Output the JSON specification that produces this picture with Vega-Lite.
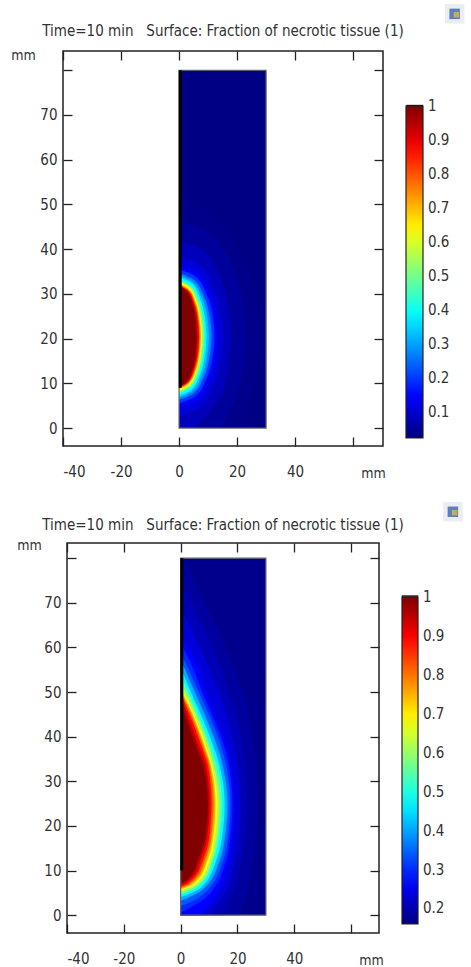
{"$schema":"https://vega.github.io/schema/vega-lite/v6.json","padding":{"left":9,"top":3,"right":0,"bottom":0},"background":"white","bounds":"flush","center":true,"spacing":97,"resolve":{"scale":{"color":"independent"},"legend":{"color":"independent"}},"config":{"view":{"stroke":"#222","strokeWidth":1.5},"font":"DejaVu Sans Condensed","axis":{"labelFont":"DejaVu Sans Condensed","labelFontSize":15,"labelColor":"#333","titleFont":"DejaVu Sans Condensed","titleFontSize":14,"titleFontWeight":"normal","titleColor":"#333","tickColor":"#222","grid":false,"domain":false,"tickWidth":1.3},"title":{"font":"DejaVu Sans Condensed","fontSize":15,"fontWeight":"normal","color":"#333"},"legend":{"labelFont":"DejaVu Sans Condensed","labelFontSize":15,"labelColor":"#333"}},
"datasets":{
"c1":[{"v":0.028,"y":0,"x":30},{"v":0.028,"y":80,"x":30},
{"v":0.035,"y":0,"x":22},{"v":0.035,"y":20.5,"x":28},{"v":0.035,"y":35,"x":24},{"v":0.035,"y":46,"x":14},{"v":0.035,"y":52.5,"x":0},
{"v":0.05,"y":0,"x":14},{"v":0.05,"y":3.6,"x":17.5},{"v":0.05,"y":12.7,"x":21.9},{"v":0.05,"y":20.5,"x":23},{"v":0.05,"y":28.3,"x":21.9},{"v":0.05,"y":37.4,"x":17.5},{"v":0.05,"y":43.9,"x":10},{"v":0.05,"y":46.5,"x":0},
{"v":0.08,"y":0,"x":5.4},{"v":0.08,"y":6.5,"x":13.7},{"v":0.08,"y":14,"x":17.1},{"v":0.08,"y":20.5,"x":18},{"v":0.08,"y":27,"x":17.1},{"v":0.08,"y":34.5,"x":13.7},{"v":0.08,"y":39.85,"x":7.9},{"v":0.08,"y":42,"x":0},
{"v":0.11,"y":2.5,"x":0},{"v":0.11,"y":4.3,"x":6.6},{"v":0.11,"y":8.8,"x":11.4},{"v":0.11,"y":15.1,"x":14.3},{"v":0.11,"y":20.5,"x":15},{"v":0.11,"y":25.9,"x":14.3},{"v":0.11,"y":32.2,"x":11.4},{"v":0.11,"y":36.7,"x":6.6},{"v":0.11,"y":38.5,"x":0},
{"v":0.146,"y":4.5,"x":0},{"v":0.146,"y":6.1,"x":5.8},{"v":0.146,"y":10.1,"x":10},{"v":0.146,"y":15.7,"x":12.5},{"v":0.146,"y":20.5,"x":13.2},{"v":0.146,"y":25.3,"x":12.5},{"v":0.146,"y":30.9,"x":10},{"v":0.146,"y":34.9,"x":5.8},{"v":0.146,"y":36.5,"x":0},
{"v":0.2,"y":5.5,"x":0},{"v":0.2,"y":7,"x":5.4},{"v":0.2,"y":10.75,"x":9.3},{"v":0.2,"y":16,"x":11.6},{"v":0.2,"y":20.5,"x":12.2},{"v":0.2,"y":25,"x":11.6},{"v":0.2,"y":30.25,"x":9.3},{"v":0.2,"y":34,"x":5.4},{"v":0.2,"y":35.5,"x":0},
{"v":0.27,"y":6.3,"x":0},{"v":0.27,"y":7.7,"x":4.9},{"v":0.27,"y":11.3,"x":8.5},{"v":0.27,"y":16.2,"x":10.6},{"v":0.27,"y":20.5,"x":11.2},{"v":0.27,"y":24.8,"x":10.6},{"v":0.27,"y":29.7,"x":8.5},{"v":0.27,"y":33.3,"x":4.9},{"v":0.27,"y":34.7,"x":0},
{"v":0.33,"y":6.8,"x":0},{"v":0.33,"y":8.2,"x":4.5},{"v":0.33,"y":11.6,"x":7.8},{"v":0.33,"y":16.4,"x":9.8},{"v":0.33,"y":20.5,"x":10.3},{"v":0.33,"y":24.6,"x":9.8},{"v":0.33,"y":29.4,"x":7.8},{"v":0.33,"y":32.8,"x":4.5},{"v":0.33,"y":34.2,"x":0},
{"v":0.39,"y":7.2,"x":0},{"v":0.39,"y":8.5,"x":4.2},{"v":0.39,"y":11.9,"x":7.2},{"v":0.39,"y":16.5,"x":9},{"v":0.39,"y":20.5,"x":9.5},{"v":0.39,"y":24.5,"x":9},{"v":0.39,"y":29.1,"x":7.2},{"v":0.39,"y":32.5,"x":4.2},{"v":0.39,"y":33.8,"x":0},
{"v":0.46,"y":7.7,"x":0},{"v":0.46,"y":9,"x":3.9},{"v":0.46,"y":12.2,"x":6.8},{"v":0.46,"y":16.7,"x":8.5},{"v":0.46,"y":20.5,"x":8.9},{"v":0.46,"y":24.3,"x":8.5},{"v":0.46,"y":28.8,"x":6.8},{"v":0.46,"y":32,"x":3.9},{"v":0.46,"y":33.3,"x":0},
{"v":0.54,"y":8,"x":0},{"v":0.54,"y":9.3,"x":3.7},{"v":0.54,"y":12.4,"x":6.4},{"v":0.54,"y":16.8,"x":8},{"v":0.54,"y":20.5,"x":8.4},{"v":0.54,"y":24.2,"x":8},{"v":0.54,"y":28.6,"x":6.4},{"v":0.54,"y":31.7,"x":3.7},{"v":0.54,"y":33,"x":0},
{"v":0.63,"y":8.3,"x":0},{"v":0.63,"y":9.5,"x":3.5},{"v":0.63,"y":12.6,"x":6},{"v":0.63,"y":16.8,"x":7.5},{"v":0.63,"y":20.5,"x":7.9},{"v":0.63,"y":24.2,"x":7.5},{"v":0.63,"y":28.4,"x":6},{"v":0.63,"y":31.5,"x":3.5},{"v":0.63,"y":32.7,"x":0},
{"v":0.72,"y":8.7,"x":0},{"v":0.72,"y":9.9,"x":3.3},{"v":0.72,"y":12.8,"x":5.7},{"v":0.72,"y":17,"x":7.1},{"v":0.72,"y":20.5,"x":7.5},{"v":0.72,"y":24,"x":7.1},{"v":0.72,"y":28.2,"x":5.7},{"v":0.72,"y":31.1,"x":3.3},{"v":0.72,"y":32.3,"x":0},
{"v":0.8,"y":8.9,"x":0},{"v":0.8,"y":10.1,"x":3.2},{"v":0.8,"y":13,"x":5.5},{"v":0.8,"y":17,"x":6.8},{"v":0.8,"y":20.5,"x":7.2},{"v":0.8,"y":24,"x":6.8},{"v":0.8,"y":28,"x":5.5},{"v":0.8,"y":30.9,"x":3.2},{"v":0.8,"y":32.1,"x":0},
{"v":0.88,"y":9.1,"x":0},{"v":0.88,"y":10.2,"x":3},{"v":0.88,"y":13.1,"x":5.2},{"v":0.88,"y":17.1,"x":6.6},{"v":0.88,"y":20.5,"x":6.9},{"v":0.88,"y":23.9,"x":6.6},{"v":0.88,"y":27.9,"x":5.2},{"v":0.88,"y":30.8,"x":3},{"v":0.88,"y":31.9,"x":0},
{"v":0.95,"y":9.2,"x":0},{"v":0.95,"y":10.3,"x":2.8},{"v":0.95,"y":13.15,"x":4.9},{"v":0.95,"y":17.1,"x":6.1},{"v":0.95,"y":20.5,"x":6.4},{"v":0.95,"y":23.9,"x":6.1},{"v":0.95,"y":27.85,"x":4.9},{"v":0.95,"y":30.7,"x":2.8},{"v":0.95,"y":31.8,"x":0},
{"v":1,"y":9.3,"x":0},{"v":1,"y":10.42,"x":2.6},{"v":1,"y":13.2,"x":4.6},{"v":1,"y":17.1,"x":5.7},{"v":1,"y":20.5,"x":6},{"v":1,"y":23.9,"x":5.7},{"v":1,"y":27.8,"x":4.6},{"v":1,"y":30.6,"x":2.6},{"v":1,"y":31.7,"x":0}],
"c2":[{"v":0.17,"y":0,"x":30},{"v":0.17,"y":80,"x":30},
{"v":0.185,"y":0,"x":21},{"v":0.185,"y":8,"x":24.5},{"v":0.185,"y":25,"x":27},{"v":0.185,"y":45,"x":24},{"v":0.185,"y":60,"x":16},{"v":0.185,"y":72,"x":7},{"v":0.185,"y":80,"x":1.5},
{"v":0.205,"y":0,"x":15},{"v":0.205,"y":8,"x":20},{"v":0.205,"y":25,"x":23.5},{"v":0.205,"y":45,"x":19.5},{"v":0.205,"y":58,"x":12.5},{"v":0.205,"y":68,"x":5.5},{"v":0.205,"y":75,"x":0},
{"v":0.235,"y":0,"x":10},{"v":0.235,"y":8,"x":17.5},{"v":0.235,"y":25,"x":21},{"v":0.235,"y":45,"x":16},{"v":0.235,"y":56,"x":9.5},{"v":0.235,"y":63,"x":4.5},{"v":0.235,"y":69,"x":0},
{"v":0.265,"y":0,"x":6.6},{"v":0.265,"y":3,"x":11},{"v":0.265,"y":7,"x":14.5},{"v":0.265,"y":12.3,"x":17},{"v":0.265,"y":17,"x":18.2},{"v":0.265,"y":25,"x":18.8},{"v":0.265,"y":33,"x":17.8},{"v":0.265,"y":38.5,"x":16},{"v":0.265,"y":43.7,"x":12.8},{"v":0.265,"y":50,"x":9},{"v":0.265,"y":57,"x":5},{"v":0.265,"y":63,"x":0},
{"v":0.3,"y":0.6,"x":0},{"v":0.3,"y":1.4,"x":2.6},{"v":0.3,"y":4,"x":9},{"v":0.3,"y":12.3,"x":16},{"v":0.3,"y":17,"x":17.4},{"v":0.3,"y":25,"x":18.2},{"v":0.3,"y":33,"x":17.1},{"v":0.3,"y":38.5,"x":15},{"v":0.3,"y":43.7,"x":11.8},{"v":0.3,"y":50,"x":7.6},{"v":0.3,"y":57,"x":3.2},{"v":0.3,"y":61,"x":0},
{"v":0.34,"y":2,"x":0},{"v":0.34,"y":2.6,"x":2.4},{"v":0.34,"y":4.8,"x":8.2},{"v":0.34,"y":12.3,"x":15},{"v":0.34,"y":17,"x":16.6},{"v":0.34,"y":25,"x":17.5},{"v":0.34,"y":33,"x":16.2},{"v":0.34,"y":38.5,"x":13.9},{"v":0.34,"y":43.7,"x":10.8},{"v":0.34,"y":50,"x":6.4},{"v":0.34,"y":59,"x":0},
{"v":0.41,"y":3.2,"x":0},{"v":0.41,"y":3.8,"x":2.2},{"v":0.41,"y":5.6,"x":7.5},{"v":0.41,"y":12.3,"x":13.8},{"v":0.41,"y":17,"x":15.5},{"v":0.41,"y":25,"x":16.5},{"v":0.41,"y":33,"x":15},{"v":0.41,"y":38.5,"x":12.5},{"v":0.41,"y":43.7,"x":9.3},{"v":0.41,"y":50,"x":5},{"v":0.41,"y":57.3,"x":0},
{"v":0.475,"y":4,"x":0},{"v":0.475,"y":4.5,"x":2},{"v":0.475,"y":6.2,"x":7.2},{"v":0.475,"y":12.3,"x":12.6},{"v":0.475,"y":17,"x":14.5},{"v":0.475,"y":25,"x":15.5},{"v":0.475,"y":33,"x":13.9},{"v":0.475,"y":38.5,"x":11.2},{"v":0.475,"y":43.7,"x":8},{"v":0.475,"y":49,"x":4.3},{"v":0.475,"y":55.5,"x":0},
{"v":0.55,"y":4.6,"x":0},{"v":0.55,"y":5,"x":2},{"v":0.55,"y":6.8,"x":7},{"v":0.55,"y":12.3,"x":11.7},{"v":0.55,"y":17,"x":13.5},{"v":0.55,"y":25,"x":14.6},{"v":0.55,"y":33,"x":13},{"v":0.55,"y":38.5,"x":10.3},{"v":0.55,"y":43.7,"x":7.1},{"v":0.55,"y":48.7,"x":3.7},{"v":0.55,"y":53.9,"x":0},
{"v":0.62,"y":5.1,"x":0},{"v":0.62,"y":5.5,"x":2},{"v":0.62,"y":7.3,"x":6.8},{"v":0.62,"y":12.3,"x":10.9},{"v":0.62,"y":17,"x":12.7},{"v":0.62,"y":25,"x":13.7},{"v":0.62,"y":33,"x":12},{"v":0.62,"y":38.5,"x":9.4},{"v":0.62,"y":43.7,"x":6.3},{"v":0.62,"y":48.4,"x":3},{"v":0.62,"y":52.3,"x":0},
{"v":0.685,"y":5.6,"x":0},{"v":0.685,"y":6,"x":2},{"v":0.685,"y":7.8,"x":6.6},{"v":0.685,"y":12.3,"x":10.2},{"v":0.685,"y":17,"x":11.9},{"v":0.685,"y":25,"x":12.9},{"v":0.685,"y":33,"x":11.2},{"v":0.685,"y":38.5,"x":8.6},{"v":0.685,"y":43.7,"x":5.6},{"v":0.685,"y":47.5,"x":2.9},{"v":0.685,"y":50.9,"x":0},
{"v":0.75,"y":5.8,"x":0},{"v":0.75,"y":6.2,"x":1.9},{"v":0.75,"y":8,"x":6},{"v":0.75,"y":12.3,"x":9.4},{"v":0.75,"y":17,"x":11.3},{"v":0.75,"y":25,"x":12.2},{"v":0.75,"y":33,"x":10.8},{"v":0.75,"y":38.5,"x":8.1},{"v":0.75,"y":43.7,"x":5.1},{"v":0.75,"y":47.4,"x":2.6},{"v":0.75,"y":50.6,"x":0},
{"v":0.82,"y":6.1,"x":0},{"v":0.82,"y":6.5,"x":1.8},{"v":0.82,"y":8.2,"x":5.4},{"v":0.82,"y":12.3,"x":8.6},{"v":0.82,"y":17,"x":10.7},{"v":0.82,"y":25,"x":11.6},{"v":0.82,"y":33,"x":10.4},{"v":0.82,"y":38.5,"x":7.6},{"v":0.82,"y":43.7,"x":4.6},{"v":0.82,"y":47.2,"x":2.2},{"v":0.82,"y":50.3,"x":0},
{"v":0.89,"y":6.3,"x":0},{"v":0.89,"y":6.8,"x":1.7},{"v":0.89,"y":8.4,"x":4.8},{"v":0.89,"y":12.3,"x":7.8},{"v":0.89,"y":17,"x":10},{"v":0.89,"y":25,"x":10.9},{"v":0.89,"y":33,"x":9.8},{"v":0.89,"y":38.5,"x":7},{"v":0.89,"y":43.7,"x":4},{"v":0.89,"y":47,"x":1.8},{"v":0.89,"y":50,"x":0},
{"v":0.95,"y":6.7,"x":0},{"v":0.95,"y":7.2,"x":1.6},{"v":0.95,"y":8.7,"x":4.3},{"v":0.95,"y":12.3,"x":6.9},{"v":0.95,"y":17,"x":9.2},{"v":0.95,"y":25,"x":10.2},{"v":0.95,"y":33,"x":9},{"v":0.95,"y":38.5,"x":6},{"v":0.95,"y":43.7,"x":3.1},{"v":0.95,"y":47.3,"x":1},{"v":0.95,"y":48.7,"x":0},
{"v":1,"y":7.2,"x":0},{"v":1,"y":7.6,"x":1.5},{"v":1,"y":9,"x":3.8},{"v":1,"y":12.3,"x":6},{"v":1,"y":17,"x":8.5},{"v":1,"y":25,"x":9.6},{"v":1,"y":33,"x":8.2},{"v":1,"y":38.5,"x":5},{"v":1,"y":43.7,"x":2.2},{"v":1,"y":45.5,"x":1.2},{"v":1,"y":47.5,"x":0}],
"t1":[{"x":78.3,"x2":84.1,"y":72.1}],
"t2":[{"x":77.8,"x2":83.6,"y":71.5}]
},
"vconcat":[
{"width":320,"height":395,"title":{"text":"Time=10 min \u00a0 Surface: Fraction of necrotic tissue (1)","offset":-35},
"resolve":{"axis":{"x":"independent","y":"independent"}},
"layer":[
{"data":{"name":"c1"},"mark":{"type":"area","orient":"horizontal","interpolate":"monotone"},"encoding":{"y":{"field":"y","type":"quantitative","scale":{"domain":[-4,84.3],"nice":false,"zero":false},"axis":null},"x":{"field":"x","type":"quantitative","stack":null,"scale":{"domain":[-40,70.3],"nice":false,"zero":false},"axis":null},"x2":{"datum":0},"detail":{"field":"v","type":"nominal"},"color":{"field":"v","type":"quantitative","scale":{"domain":[0.024,0.146,0.39,0.634,0.878,1],"range":["#000080","#0000ff","#00ffff","#ffff00","#ff0000","#800000"],"interpolate":"rgb"},"legend":{"orient":"none","legendX":343,"legendY":55,"title":null,"type":"gradient","gradientLength":332,"gradientThickness":17,"gradientStrokeColor":"#222","gradientStrokeWidth":1.2,"values":[0.1,0.2,0.3,0.4,0.5,0.6,0.7,0.8,0.9,1],"labelOverlap":false,"labelOffset":5,"format":"~g","encode":{"labels":{"update":{"baseline":{"value":"middle"}}}}}}}},
{"data":{"values":[{"x":0,"x2":30,"y":0,"y2":80}]},"mark":{"type":"rect","fill":null,"stroke":"#666","strokeWidth":1.2},"encoding":{"x":{"field":"x","type":"quantitative","axis":{"orient":"top","title":null,"labels":false,"values":[-40,-20,0,20,40,60],"tickSize":-9}},"x2":{"field":"x2"},"y":{"field":"y","type":"quantitative","axis":{"orient":"right","title":null,"labels":false,"values":[0,10,20,30,40,50,60,70,80],"tickSize":-9}},"y2":{"field":"y2"}}},
{"data":{"values":[{"x":0.4,"y":9,"y2":80}]},"mark":{"type":"rule","color":"black","strokeWidth":3},"encoding":{"x":{"field":"x","type":"quantitative","axis":{"orient":"bottom","values":[-40,-20,0,20,40,60],"tickSize":-9,"labelPadding":27,"labelExpr":"datum.value==60?'':''+datum.value","title":"mm","titleX":310,"titleY":20}},"y":{"field":"y","type":"quantitative","axis":{"orient":"left","values":[0,10,20,30,40,50,60,70,80],"tickSize":-9,"labelPadding":15,"labelExpr":"datum.value==80?'':datum.label","title":"mm","titleAngle":0,"titleX":-40,"titleY":11}},"y2":{"field":"y2"}}},
{"data":{"name":"t1"},"mark":{"type":"rule","color":"#111","strokeWidth":1.5},"encoding":{"x":{"field":"x","type":"quantitative","axis":null},"x2":{"field":"x2"},"y":{"field":"y","type":"quantitative","axis":null}}},
{"data":{"values":[{"x":95,"y":92.6,"k":"a"}]},"mark":{"type":"point","shape":"square","filled":true,"size":380,"color":"#e4e6ea"},"encoding":{"x":{"field":"x","type":"quantitative","axis":null},"y":{"field":"y","type":"quantitative","axis":null}}},
{"data":{"values":[{"x":95,"y":92.6,"k":"b"}]},"mark":{"type":"point","shape":"square","filled":true,"size":110,"color":"#1f4fb0"},"encoding":{"x":{"field":"x","type":"quantitative","axis":null},"y":{"field":"y","type":"quantitative","axis":null}}},
{"data":{"values":[{"x":95.6,"y":92.4,"k":"c"}]},"mark":{"type":"point","shape":"square","filled":true,"size":30,"color":"#f2c230"},"encoding":{"x":{"field":"x","type":"quantitative","axis":null},"y":{"field":"y","type":"quantitative","axis":null}}}
]},
{"width":312,"height":390,"title":{"text":"Time=10 min \u00a0 Surface: Fraction of necrotic tissue (1)","offset":-31},
"resolve":{"axis":{"x":"independent","y":"independent"}},
"layer":[
{"data":{"name":"c2"},"mark":{"type":"area","orient":"horizontal","interpolate":"monotone"},"encoding":{"y":{"field":"y","type":"quantitative","scale":{"domain":[-4,83.4],"nice":false,"zero":false},"axis":null},"x":{"field":"x","type":"quantitative","stack":null,"scale":{"domain":[-40,69.8],"nice":false,"zero":false},"axis":null},"x2":{"datum":0},"detail":{"field":"v","type":"nominal"},"color":{"field":"v","type":"quantitative","scale":{"domain":[0.16,0.265,0.475,0.685,0.895,1],"range":["#000080","#0000ff","#00ffff","#ffff00","#ff0000","#800000"],"interpolate":"rgb"},"legend":{"orient":"none","legendX":335,"legendY":54,"title":null,"type":"gradient","gradientLength":327,"gradientThickness":16,"gradientStrokeColor":"#222","gradientStrokeWidth":1.2,"values":[0.2,0.3,0.4,0.5,0.6,0.7,0.8,0.9,1],"labelOverlap":false,"labelOffset":5,"format":"~g","encode":{"labels":{"update":{"baseline":{"value":"middle"}}}}}}}},
{"data":{"values":[{"x":0,"x2":30,"y":0,"y2":80}]},"mark":{"type":"rect","fill":null,"stroke":"#666","strokeWidth":1.2},"encoding":{"x":{"field":"x","type":"quantitative","axis":{"orient":"top","title":null,"labels":false,"values":[-40,-20,0,20,40,60],"tickSize":-9}},"x2":{"field":"x2"},"y":{"field":"y","type":"quantitative","axis":{"orient":"right","title":null,"labels":false,"values":[0,10,20,30,40,50,60,70,80],"tickSize":-9}},"y2":{"field":"y2"}}},
{"data":{"values":[{"x":0.4,"y":10,"y2":80}]},"mark":{"type":"rule","color":"black","strokeWidth":3},"encoding":{"x":{"field":"x","type":"quantitative","axis":{"orient":"bottom","values":[-40,-20,0,20,40,60],"tickSize":-9,"labelPadding":27,"labelExpr":"datum.value==60?'':''+datum.value","title":"mm","titleX":304,"titleY":20}},"y":{"field":"y","type":"quantitative","axis":{"orient":"left","values":[0,10,20,30,40,50,60,70,80],"tickSize":-9,"labelPadding":15,"labelExpr":"datum.value==80?'':datum.label","title":"mm","titleAngle":0,"titleX":-38,"titleY":9}},"y2":{"field":"y2"}}},
{"data":{"name":"t2"},"mark":{"type":"rule","color":"#111","strokeWidth":1.5},"encoding":{"x":{"field":"x","type":"quantitative","axis":null},"x2":{"field":"x2"},"y":{"field":"y","type":"quantitative","axis":null}}},
{"data":{"values":[{"x":95.8,"y":90.4,"k":"a"}]},"mark":{"type":"point","shape":"square","filled":true,"size":380,"color":"#e4e6ea"},"encoding":{"x":{"field":"x","type":"quantitative","axis":null},"y":{"field":"y","type":"quantitative","axis":null}}},
{"data":{"values":[{"x":95.8,"y":90.4,"k":"b"}]},"mark":{"type":"point","shape":"square","filled":true,"size":110,"color":"#1f4fb0"},"encoding":{"x":{"field":"x","type":"quantitative","axis":null},"y":{"field":"y","type":"quantitative","axis":null}}},
{"data":{"values":[{"x":96.4,"y":90.2,"k":"c"}]},"mark":{"type":"point","shape":"square","filled":true,"size":30,"color":"#f2c230"},"encoding":{"x":{"field":"x","type":"quantitative","axis":null},"y":{"field":"y","type":"quantitative","axis":null}}}
]}
]}
